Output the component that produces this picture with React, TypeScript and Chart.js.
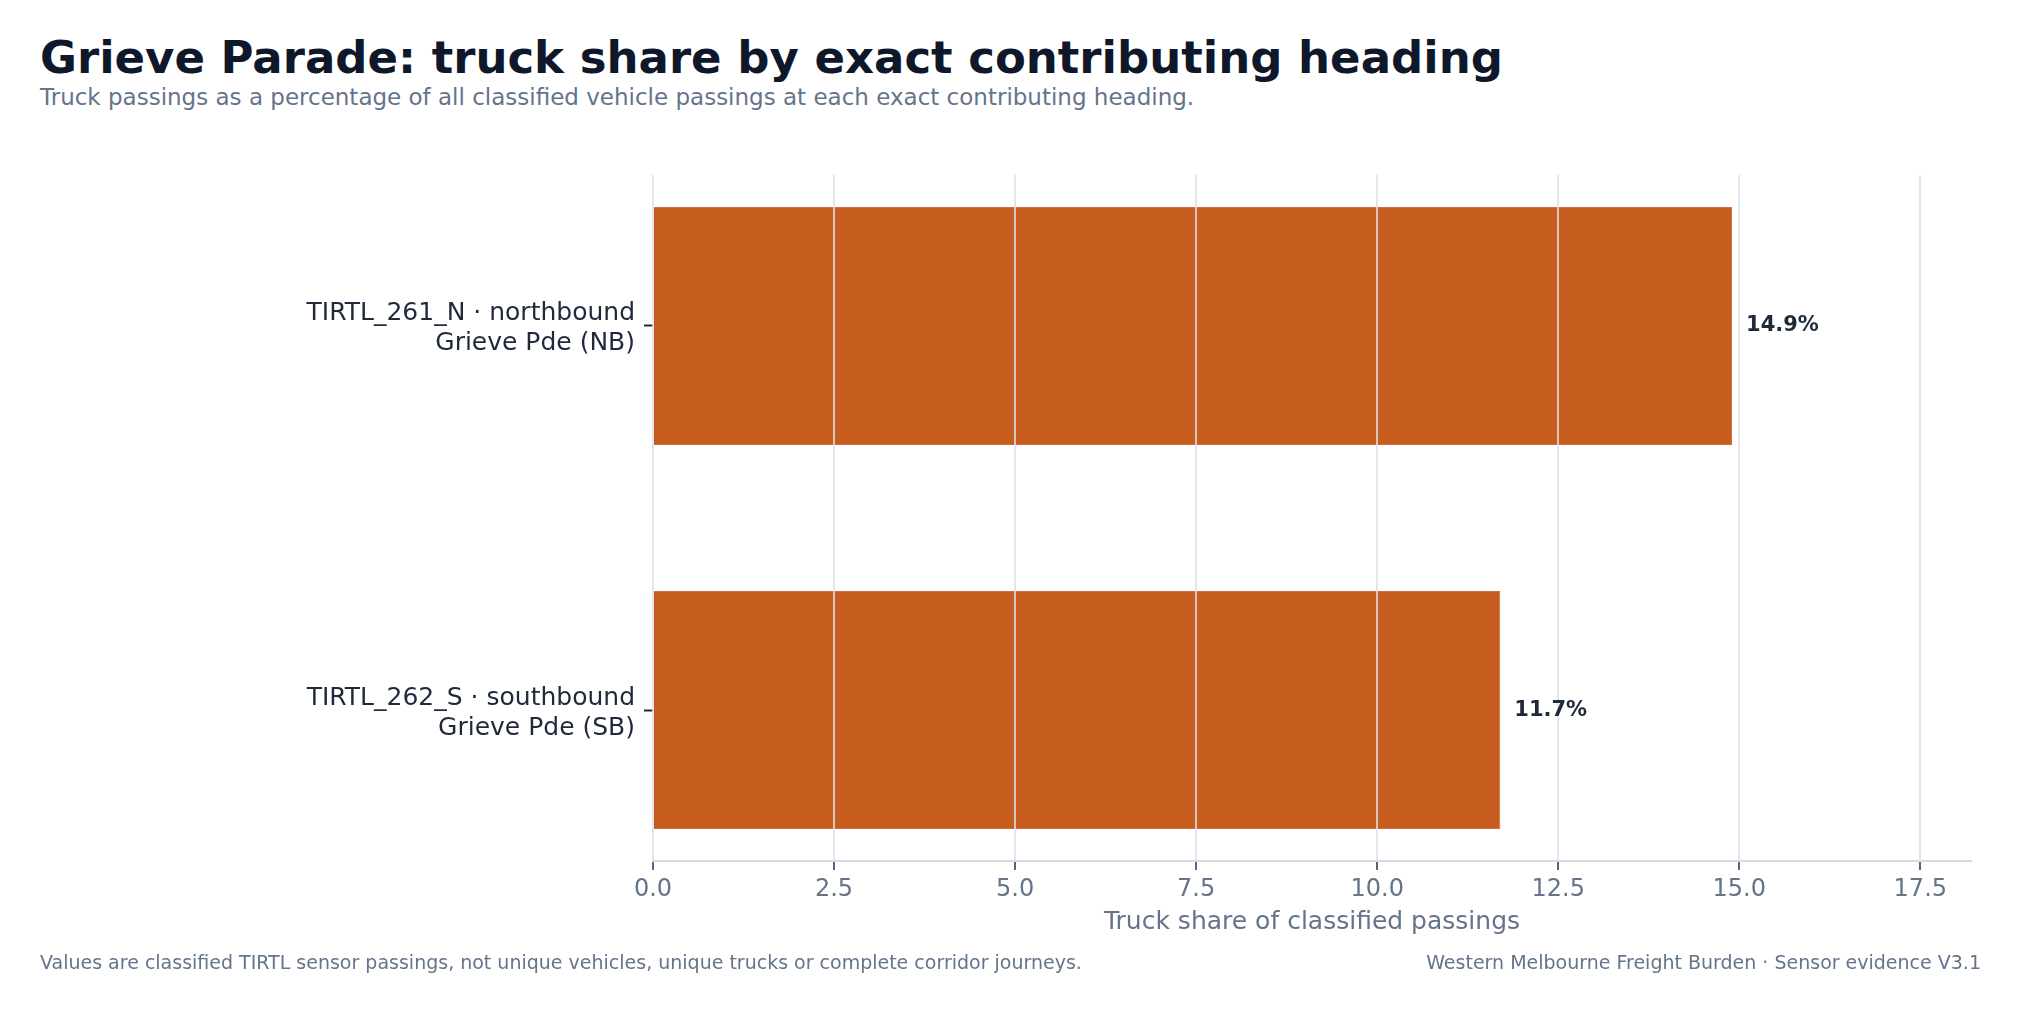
import { Chart, registerables, type Plugin } from 'chart.js';
import { type FC, useEffect, useRef } from 'react';

Chart.register(...registerables);

const sensorLabels = ['TIRTL_261_N · northbound', 'TIRTL_262_S · southbound'];
const roadLabels = ['Grieve Pde (NB)', 'Grieve Pde (SB)'];
const truckShare = [14.9, 11.7];
const shareTicks = [0, 2.5, 5, 7.5, 10, 12.5, 15, 17.5];

const FONT = '"DejaVu Sans", sans-serif';
const MUTED = '#64748b';
const INK = '#1e293b';

// value labels at the end of each bar
const valueLabels: Plugin<'bar'> = {
  id: 'valueLabels',
  afterDraw(chart) {
    const { ctx } = chart;
    const meta = chart.getDatasetMeta(0);
    ctx.save();
    ctx.font = `bold 21px ${FONT}`;
    ctx.fillStyle = INK;
    ctx.textBaseline = 'middle';
    meta.data.forEach((bar, i) => {
      ctx.fillText(`${truckShare[i].toFixed(1)}%`, bar.x + 14, bar.y);
    });
    ctx.restore();
  },
};

const App: FC = () => {
  const canvasRef = useRef<HTMLCanvasElement>(null);

  useEffect(() => {
    document.body.style.margin = '0';
    if (!canvasRef.current) return;

    const chart = new Chart(canvasRef.current, {
      type: 'bar',
      data: {
        datasets: [
          {
            label: 'Truck share',
            data: truckShare.map((x, y) => ({ x, y })),
            backgroundColor: '#c65d1e',
            borderColor: '#d0703a',
            borderWidth: 1,
            barPercentage: 0.62,
            categoryPercentage: 1,
          },
        ],
      },
      options: {
        animation: false,
        responsive: true,
        maintainAspectRatio: false,
        indexAxis: 'y',
        layout: { padding: { top: 175, right: 50, bottom: 72, left: 0 } },
        plugins: {
          legend: { display: false },
          tooltip: { enabled: false },
        },
        scales: {
          x: {
            type: 'linear',
            min: 0,
            max: 18.2,
            afterBuildTicks: (axis) => {
              axis.ticks = shareTicks.map((value) => ({ value }));
            },
            afterFit: (axis) => {
              axis.height = 80;
            },
            ticks: {
              color: MUTED,
              font: { family: FONT, size: 24 },
              padding: 5,
              callback: (v) => Number(v).toFixed(1),
            },
            grid: {
              z: 1, // gridlines above the bars
              color: 'rgba(218, 225, 233, 0.8)',
              lineWidth: 2,
              tickColor: '#5b6778',
              tickLength: 9,
              tickWidth: 2,
            },
            // same layer as the grid, so the border position is known when drawn
            border: { display: true, color: '#d3dce5', width: 2, z: 1 },
            title: {
              display: true,
              text: 'Truck share of classified passings',
              color: MUTED,
              font: { family: FONT, size: 25 },
              padding: { top: 4, bottom: 4 },
            },
          },
          y: {
            type: 'linear',
            min: -0.393,
            max: 1.393,
            reverse: true,
            offset: false,
            bounds: 'data',
            afterBuildTicks: (axis) => {
              axis.ticks = sensorLabels.map((_, value) => ({ value }));
            },
            afterFit: (axis) => {
              axis.width = 653;
            },
            ticks: {
              color: INK,
              font: { family: FONT, size: 25, lineHeight: 1.2 },
              padding: 9,
              labelOffset: 3,
              callback: (v) => [sensorLabels[Number(v)], roadLabels[Number(v)]],
            },
            grid: {
              offset: false,
              drawOnChartArea: false,
              drawTicks: true,
              tickLength: 9,
              tickColor: INK,
              tickWidth: 2,
            },
            border: { display: false },
          },
        },
      },
      plugins: [valueLabels],
    });

    return () => {
      chart.destroy();
    };
  }, []);

  return (
    <div style={{ position: 'relative', width: 2021, height: 1013, fontFamily: FONT, background: '#fff' }}>
      <div
        style={{
          position: 'absolute',
          left: 40,
          top: 35,
          fontSize: 45,
          fontWeight: 'bold',
          lineHeight: 1,
          color: '#0f172a',
          whiteSpace: 'nowrap',
        }}
      >
        Grieve Parade: truck share by exact contributing heading
      </div>
      <div style={{ position: 'absolute', left: 40, top: 86, fontSize: 23, lineHeight: 1, color: MUTED, whiteSpace: 'nowrap' }}>
        Truck passings as a percentage of all classified vehicle passings at each exact contributing heading.
      </div>
      <div style={{ position: 'absolute', inset: 0 }}>
        <canvas ref={canvasRef} />
      </div>
      <div style={{ position: 'absolute', left: 40, top: 953, fontSize: 19, lineHeight: 1, color: MUTED, whiteSpace: 'nowrap' }}>
        Values are classified TIRTL sensor passings, not unique vehicles, unique trucks or complete corridor journeys.
      </div>
      <div style={{ position: 'absolute', right: 40, top: 953, fontSize: 19, lineHeight: 1, color: MUTED, whiteSpace: 'nowrap' }}>
        Western Melbourne Freight Burden · Sensor evidence V3.1
      </div>
    </div>
  );
};

export default App;
